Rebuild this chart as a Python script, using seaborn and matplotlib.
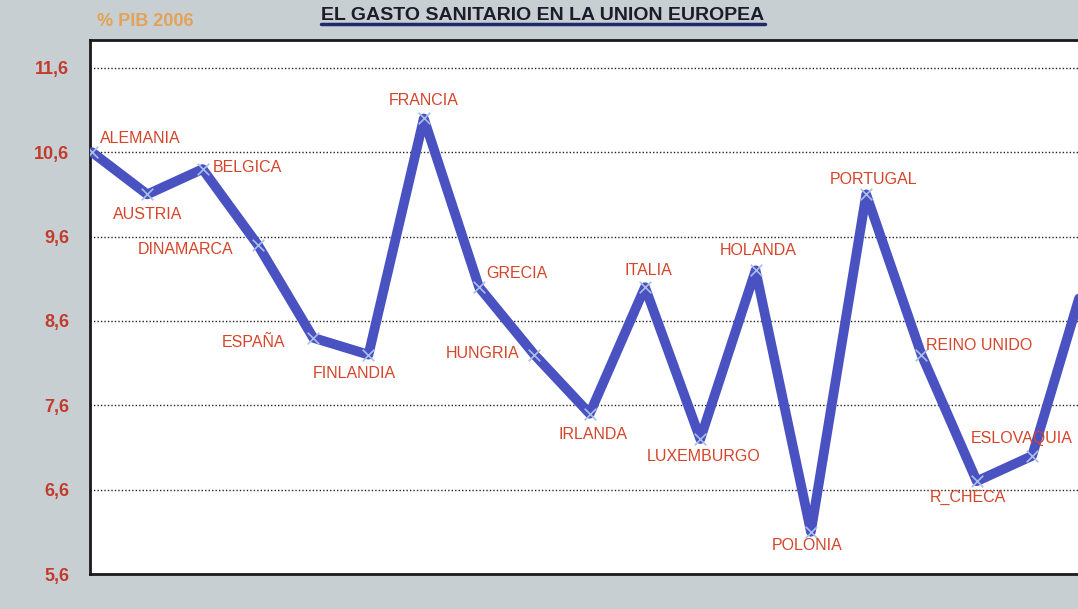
import matplotlib
matplotlib.use("Agg")
import matplotlib.pyplot as plt
import seaborn as sns
import pandas as pd
from matplotlib.lines import Line2D

# Data: gasto sanitario (% PIB 2006)
paises = ['ALEMANIA', 'AUSTRIA', 'BELGICA', 'DINAMARCA', 'ESPAÑA', 'FINLANDIA',
          'FRANCIA', 'GRECIA', 'HUNGRIA', 'IRLANDA', 'ITALIA', 'LUXEMBURGO',
          'HOLANDA', 'POLONIA', 'PORTUGAL', 'REINO UNIDO', 'R_CHECA',
          'ESLOVAQUIA', 'SUECIA']
gasto = [10.6, 10.1, 10.4, 9.5, 8.4, 8.2, 11.0, 9.0, 8.2, 7.5, 9.0, 7.2,
         9.2, 6.1, 10.1, 8.2, 6.7, 7.0, 9.2]
y_ticks = [5.6, 6.6, 7.6, 8.6, 9.6, 10.6, 11.6]
y_tick_labels = ['5,6', '6,6', '7,6', '8,6', '9,6', '10,6', '11,6']

df = pd.DataFrame({'pos': range(len(paises)), 'pais': paises, 'gasto': gasto})

# label placement: (dx px, dy px, ha)
label_pos = {
    'ALEMANIA': (8, 14, 'left'), 'AUSTRIA': (0, -20, 'center'),
    'BELGICA': (10, 2, 'left'), 'DINAMARCA': (-25, -5, 'right'),
    'ESPAÑA': (-28, -5, 'right'), 'FINLANDIA': (-14, -19, 'center'),
    'FRANCIA': (0, 18, 'center'), 'GRECIA': (7, 14, 'left'),
    'HUNGRIA': (-15, 1, 'right'), 'IRLANDA': (3, -21, 'center'),
    'ITALIA': (3, 17, 'center'), 'LUXEMBURGO': (3, -17, 'center'),
    'HOLANDA': (3, 20, 'center'), 'POLONIA': (-4, -14, 'center'),
    'PORTUGAL': (7, 15, 'center'), 'REINO UNIDO': (5, 9, 'left'),
    'R_CHECA': (-9, -16, 'center'), 'ESLOVAQUIA': (-10, 17, 'center'),
    'SUECIA': (-19, -18, 'right'),
}

sns.set_theme(style='white')
plt.rcParams['font.family'] = ['Liberation Sans', 'DejaVu Sans']

W, H = 1078, 609
fig = plt.figure(figsize=(W / 100, H / 100), dpi=100, facecolor='#c7cfd3')
ax = fig.add_axes([90 / W, (H - 574) / H, (W - 90) / W, (574 - 40) / H])
ax.set_facecolor('white')

sns.lineplot(data=df, x='pos', y='gasto', ax=ax, color='#4a52c2',
             linewidth=7, solid_joinstyle='round', solid_capstyle='round',
             zorder=3)
sns.scatterplot(data=df, x='pos', y='gasto', ax=ax, marker='x', s=70,
                color='#a9bfe6', linewidth=1.2, zorder=4)

for p, y, name in zip(df['pos'], df['gasto'], df['pais']):
    dx, dy, ha = label_pos[name]
    ax.annotate(name, (p, y), xytext=(dx, dy), textcoords='offset pixels',
                ha=ha, va='center', fontsize=11.5, color='#d4452a', zorder=5)

ax.set_xlim(-0.036, 17.83)
ax.set_ylim(5.6, 11.93)
ax.set_yticks(y_ticks)
ax.set_yticklabels(y_tick_labels, fontsize=13, fontweight='bold', color='#c23b2c')
ax.tick_params(axis='y', length=0, pad=15)
ax.set_xticks([])
ax.set_xlabel('')
ax.set_ylabel('')

for v in y_ticks[1:]:
    ax.axhline(v, color='#222222', linestyle=(0, (1, 1.5)), linewidth=1.0, zorder=1)

for side in ['left', 'top', 'bottom']:
    ax.spines[side].set_color('#1a1a1a')
    ax.spines[side].set_linewidth(2)
ax.spines['right'].set_visible(False)

fig.text(97 / W, 1 - 22 / H, '% PIB 2006', ha='left', va='center',
         fontsize=13, fontweight='bold', color='#e3a256')
title = fig.text(543 / W, 1 - 20 / H, 'EL GASTO SANITARIO EN LA UNION EUROPEA',
                 ha='center', va='baseline', fontsize=14, fontweight='bold',
                 color='#1c1c2a')

# underline the title across its full width
fig.canvas.draw()
bb = title.get_window_extent().transformed(fig.transFigure.inverted())
fig.add_artist(Line2D([bb.x0, bb.x1], [1 - 24 / H, 1 - 24 / H],
                      color='#1f2a6b', linewidth=2.5))

fig.savefig('out.png', dpi=100, facecolor=fig.get_facecolor())
